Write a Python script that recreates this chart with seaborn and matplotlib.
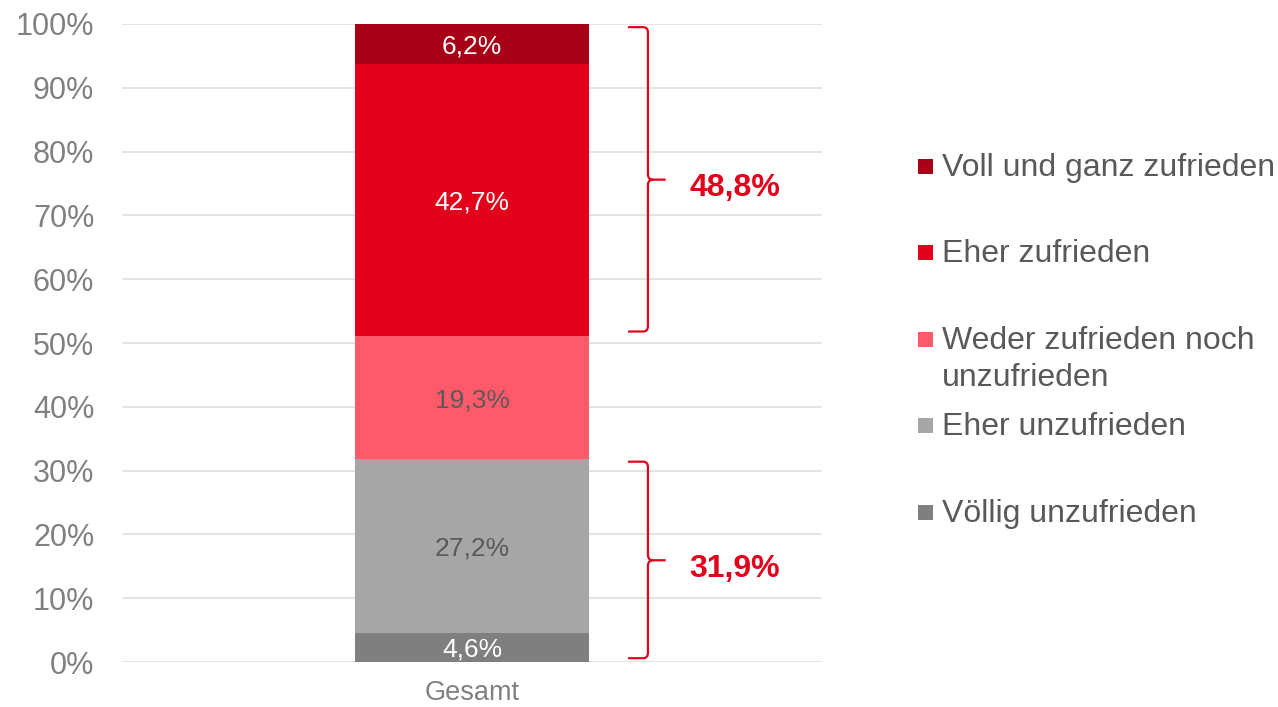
import matplotlib
matplotlib.use("Agg")
import matplotlib.pyplot as plt
from matplotlib.path import Path
from matplotlib.patches import PathPatch, Rectangle
import seaborn as sns
import numpy as np
import pandas as pd

# ---- data ----
category = "Gesamt"
series = ["Völlig unzufrieden", "Eher unzufrieden", "Weder zufrieden noch\nunzufrieden",
          "Eher zufrieden", "Voll und ganz zufrieden"]
values = [4.6, 27.2, 19.3, 42.7, 6.2]
value_labels = ["4,6%", "27,2%", "19,3%", "42,7%", "6,2%"]
colors = ["#7F7F7F", "#A6A6A6", "#FF5A69", "#E2001A", "#A80016"]
label_colors = ["white", "#595959", "#595959", "white", "white"]
group_ranges = [(51.2, 100.0), (0.0, 31.9)]
group_labels = ["48,8%", "31,9%"]
yticks = list(range(0, 101, 10))
ytick_labels = [f"{t}%" for t in yticks]

sns.set_theme(style="white")
plt.rcParams["font.family"] = ["Liberation Sans", "DejaVu Sans"]

fig = plt.figure(figsize=(12.78, 7.07), dpi=100)
ax = fig.add_axes([0.0955, 0.0636, 0.5477, 0.9025])

cum = np.cumsum(values)
# draw from top cumulative down so each later bar covers the lower part
for i in range(len(values) - 1, -1, -1):
    df = pd.DataFrame({"cat": [category], "val": [cum[i]]})
    sns.barplot(data=df, x="cat", y="val", color=colors[i], width=1.0,
                saturation=1, ax=ax, zorder=3, linewidth=0, errorbar=None)

# segment labels
bottoms = cum - np.array(values)
for v, b, lab, lc in zip(values, bottoms, value_labels, label_colors):
    ax.text(0, b + v / 2, lab, ha="center", va="center_baseline", color=lc,
            fontsize=19, zorder=5)

ax.set_xlim(-1.5, 1.5)
ax.set_ylim(0, 100)
ax.set_yticks(yticks)
ax.set_yticklabels(ytick_labels)
ax.yaxis.grid(True, color="#E0E0E0", linewidth=1.3, zorder=0)
ax.set_axisbelow(True)
for s in ax.spines.values():
    s.set_visible(False)
ax.tick_params(axis="y", length=0, pad=20, labelsize=22, labelcolor="#808080")
ax.tick_params(axis="x", length=0, pad=13, labelsize=19.5, labelcolor="#808080")
ax.set_xlabel("")
ax.set_ylabel("")

# brackets
red = "#E2001A"
x0, x1, x2 = 0.669, 0.754, 0.83
rx, ry = 0.02, 0.9
for (lo, hi), lab in zip(group_ranges, group_labels):
    yt, yb = hi - 0.5, lo + 0.6
    ym = (lo + hi) / 2
    verts = [(x0, yt), (x1 - rx, yt), (x1, yt), (x1, yt - ry),
             (x1, ym + ry), (x1, ym), (x1 + rx, ym), (x2, ym),
             (x1 + rx, ym), (x1, ym), (x1, ym - ry),
             (x1, yb + ry), (x1, yb), (x1 - rx, yb), (x0, yb)]
    codes = [Path.MOVETO, Path.LINETO, Path.CURVE3, Path.CURVE3,
             Path.LINETO, Path.CURVE3, Path.CURVE3, Path.LINETO,
             Path.MOVETO, Path.CURVE3, Path.CURVE3,
             Path.LINETO, Path.CURVE3, Path.CURVE3, Path.LINETO]
    ax.add_patch(PathPatch(Path(verts, codes), fill=False, edgecolor=red,
                           linewidth=1.6, clip_on=False, zorder=4))
    ax.text(0.93, ym - 0.8, lab, ha="left", va="center_baseline", color=red,
            fontsize=23, fontweight="bold", clip_on=False)

# legend (top entry first), positions in figure pixels
W, H = 1278, 707
legend_order = [4, 3, 2, 1, 0]
marker_y = [166, 252, 339, 425, 512]
for idx, my in zip(legend_order, marker_y):
    fig.add_artist(Rectangle((918 / W, 1 - (my + 7.5) / H), 15 / W, 15 / H,
                             transform=fig.transFigure, facecolor=colors[idx],
                             edgecolor="none"))
    fig.text(942 / W, 1 - (my - 13) / H, series[idx], ha="left", va="top",
             fontsize=23, color="#595959", linespacing=1.3)

fig.savefig("out.png", dpi=100)
